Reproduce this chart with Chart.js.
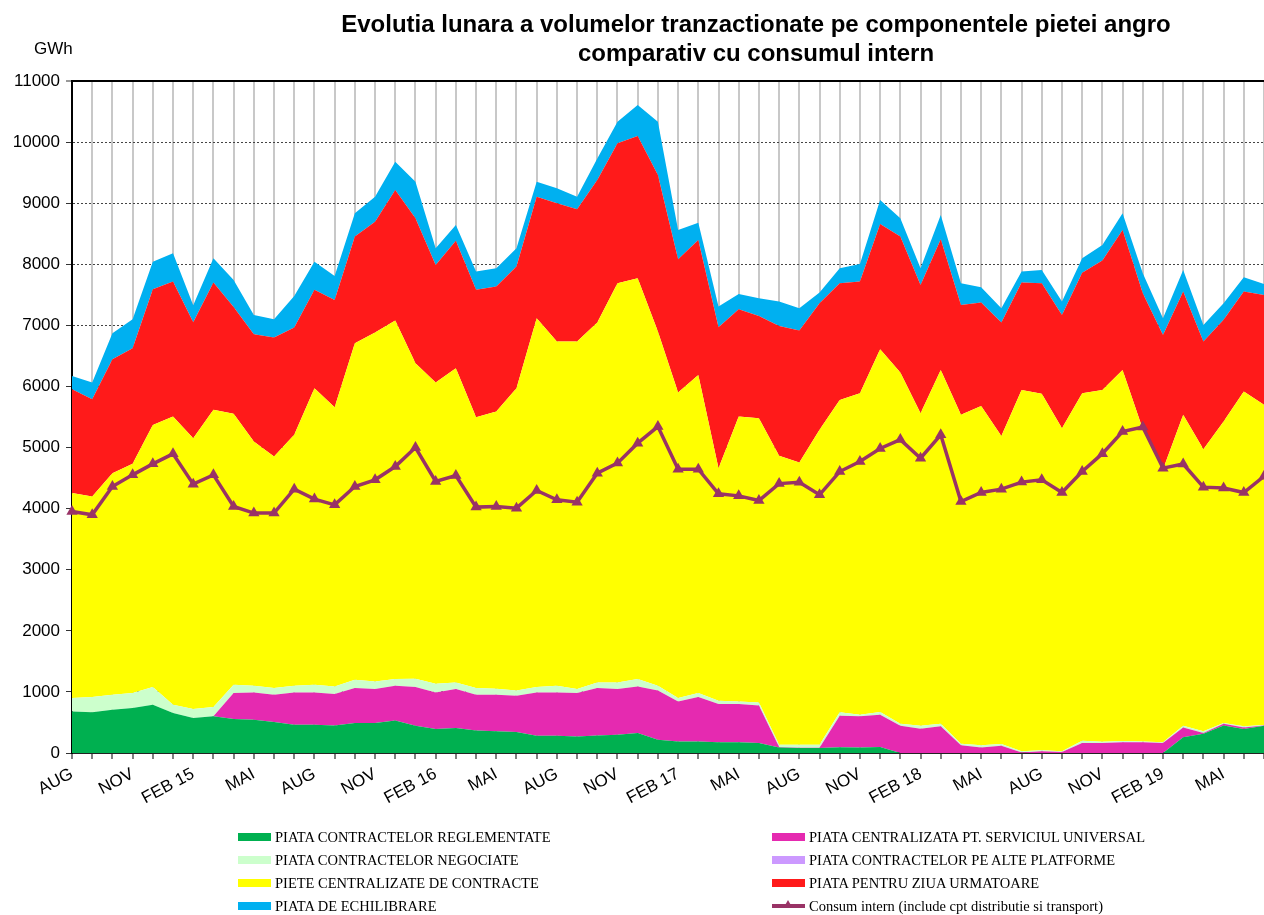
<!DOCTYPE html>
<html>
<head>
<meta charset="utf-8">
<title>Evolutia lunara a volumelor tranzactionate</title>
<script src="https://cdn.jsdelivr.net/npm/chart.js@4.4.1/dist/chart.umd.min.js"></script>
<style>
  body { margin: 0; background: #fff; }
  #wrap { position: relative; width: 1264px; height: 915px; overflow: hidden; }
  #chart { position: absolute; left: 0; top: 0; }
  .title {
    position: absolute; left: 756px; top: 9px; transform: translateX(-50%);
    font: bold 24px "Liberation Sans", Arial, sans-serif; line-height: 29px;
    text-align: center; white-space: nowrap; color: #000;
  }
  .unit {
    position: absolute; left: 34px; top: 40px;
    font: 17px "Liberation Sans", Arial, sans-serif; line-height: 17px; color: #000;
  }
  .legend-item {
    position: absolute; height: 20px; display: flex; align-items: center;
    font: 14.5px "Liberation Serif", "Times New Roman", serif; line-height: 20px;
    color: #000; white-space: nowrap;
  }
  .swatch { width: 33px; height: 8px; margin-right: 4px; position: relative; }
  .swatch.line { height: 4px; }
  .swatch.line span {
    position: absolute; left: 12px; top: -4px; width: 0; height: 0;
    border-left: 4px solid transparent; border-right: 4px solid transparent;
    border-bottom: 7px solid #993366;
  }
</style>
</head>
<body>
<div id="wrap">
  <canvas id="chart" width="1264" height="915"></canvas>
  <div class="title">Evolutia lunara a volumelor tranzactionate pe componentele pietei angro<br>comparativ cu consumul intern</div>
  <div class="unit">GWh</div>
  <div id="legend"></div>
</div>
<script>
// luni aug 2014 - iul 2019
const months = [
  "AUG", "SEP", "OCT", "NOV", "DEC", "IAN", "FEB 15", "MAR", "APR", "MAI", "IUN", "IUL",
  "AUG", "SEP", "OCT", "NOV", "DEC", "IAN", "FEB 16", "MAR", "APR", "MAI", "IUN", "IUL",
  "AUG", "SEP", "OCT", "NOV", "DEC", "IAN", "FEB 17", "MAR", "APR", "MAI", "IUN", "IUL",
  "AUG", "SEP", "OCT", "NOV", "DEC", "IAN", "FEB 18", "MAR", "APR", "MAI", "IUN", "IUL",
  "AUG", "SEP", "OCT", "NOV", "DEC", "IAN", "FEB 19", "MAR", "APR", "MAI", "IUN", "IUL"
];

// GWh
const reglementate = [
  681, 665, 708, 736, 790, 654, 573, 600, 556, 545, 507, 463,
  463, 452, 491, 491, 534, 447, 393, 409, 370, 354, 343, 283,
  283, 272, 288, 299, 327, 218, 190, 190, 174, 174, 164, 92,
  82, 82, 95, 92, 98, 0, 0, 0, 0, 0, 0, 0,
  0, 0, 0, 0, 0, 0, 0, 256, 316, 452, 393, 447
];
const serviciulUniversal = [
  0, 0, 0, 0, 0, 0, 0, 0, 426, 447, 447, 529,
  529, 513, 572, 556, 567, 633, 599, 638, 584, 600, 595, 709,
  709, 710, 775, 748, 763, 807, 655, 726, 628, 628, 615, 5,
  5, 5, 515, 508, 529, 447, 398, 436, 125, 92, 120, 10,
  27, 16, 164, 164, 174, 174, 164, 163, 11, 28, 26, 5
];
const negociate = [
  219, 251, 246, 246, 290, 136, 147, 153, 135, 109, 109, 109,
  125, 125, 136, 125, 109, 135, 142, 108, 109, 98, 87, 88,
  109, 65, 92, 108, 120, 76, 55, 66, 54, 43, 49, 39,
  49, 49, 55, 27, 44, 33, 49, 44, 27, 33, 27, 17,
  16, 11, 37, 21, 22, 16, 10, 28, 27, 11, 17, 6
];
const altePlatforme = [
  0, 0, 0, 0, 0, 0, 0, 0, 0, 0, 0, 0,
  0, 0, 0, 0, 0, 0, 0, 0, 0, 0, 0, 0,
  0, 0, 0, 0, 0, 0, 0, 0, 0, 0, 0, 0,
  0, 0, 0, 0, 0, 0, 0, 0, 0, 0, 0, 0,
  0, 0, 0, 0, 0, 0, 0, 0, 0, 0, 0, 0
];
const centralizate = [
  3354, 3283, 3627, 3751, 4291, 4718, 4434, 4864, 4435, 3998, 3790, 4107,
  4855, 4571, 5509, 5710, 5868, 5166, 4930, 5144, 4434, 4537, 4947, 6037,
  5633, 5687, 5890, 6535, 6562, 5797, 5000, 5207, 3807, 4663, 4653, 4728,
  4619, 5154, 5115, 5263, 5939, 5747, 5116, 5791, 5383, 5557, 5044, 5917,
  5836, 5290, 5689, 5759, 6075, 5110, 4466, 5088, 4620, 4935, 5481, 5241
];
const ziuaUrmatoare = [
  1701, 1593, 1865, 1893, 2221, 2208, 1896, 2083, 1748, 1756, 1947, 1755,
  1609, 1756, 1745, 1816, 2138, 2372, 1925, 2088, 2084, 2046, 1990, 1990,
  2265, 2166, 2334, 2290, 2328, 2564, 2182, 2209, 2307, 1756, 1674, 2127,
  2159, 2072, 1910, 1826, 2050, 2226, 2099, 2139, 1800, 1691, 1854, 1756,
  1811, 1854, 1973, 2116, 2291, 2226, 2204, 2018, 1760, 1664, 1636, 1799
];
const echilibrare = [
  218, 272, 426, 475, 451, 464, 280, 399, 444, 316, 301, 517,
  462, 392, 382, 409, 463, 599, 273, 256, 299, 300, 300, 245,
  245, 207, 354, 354, 507, 872, 480, 283, 337, 251, 289, 398,
  367, 174, 245, 290, 392, 300, 273, 397, 355, 251, 236, 180,
  218, 218, 236, 257, 273, 327, 273, 355, 273, 272, 235, 180
];
const consumIntern = [
  3953, 3899, 4362, 4553, 4733, 4897, 4401, 4553, 4035, 3927, 3927, 4319,
  4156, 4062, 4362, 4472, 4689, 5000, 4444, 4542, 4025, 4035, 4008, 4297,
  4144, 4106, 4581, 4745, 5072, 5344, 4646, 4646, 4242, 4209, 4133, 4410,
  4430, 4226, 4607, 4771, 4985, 5130, 4826, 5208, 4117, 4264, 4319, 4434,
  4472, 4264, 4607, 4900, 5262, 5335, 4663, 4730, 4352, 4336, 4264, 4530
];

// componentele pietei, de jos in sus
const areas = [
  { label: "PIATA CONTRACTELOR REGLEMENTATE", data: reglementate, color: "#00b050" },
  { label: "PIATA CENTRALIZATA PT. SERVICIUL UNIVERSAL", data: serviciulUniversal, color: "#e52ab0" },
  { label: "PIATA CONTRACTELOR NEGOCIATE", data: negociate, color: "#ccffcc" },
  { label: "PIATA CONTRACTELOR PE ALTE PLATFORME", data: altePlatforme, color: "#cc99ff" },
  { label: "PIETE CENTRALIZATE DE CONTRACTE", data: centralizate, color: "#ffff00" },
  { label: "PIATA PENTRU ZIUA URMATOARE", data: ziuaUrmatoare, color: "#ff1a1a" },
  { label: "PIATA DE ECHILIBRARE", data: echilibrare, color: "#00b0f0" }
];
const consumLabel = "Consum intern (include cpt distributie si transport)";
const consumColor = "#993366";

const tickFont = { family: '"Liberation Sans", Arial, sans-serif', size: 17 };

const datasets = [{
  label: consumLabel,
  data: consumIntern,
  borderColor: consumColor,
  backgroundColor: consumColor,
  borderWidth: 3.5,
  pointStyle: "triangle",
  pointRadius: 6.5,
  pointBorderWidth: 0,
  fill: false,
  stack: "consum",
  order: 0
}].concat(areas.map((a, k) => ({
  label: a.label,
  data: a.data,
  backgroundColor: a.color,
  borderColor: a.color,
  borderWidth: 0,
  pointRadius: 0,
  fill: k === 0 ? "origin" : k, // dataset k is the area right below
  stack: "piata",
  order: 1
})));

new Chart(document.getElementById("chart"), {
  type: "line",
  data: { labels: months, datasets: datasets },
  options: {
    responsive: false,
    animation: false,
    events: [],
    layout: { autoPadding: false, padding: { top: 81, right: 0, bottom: 0, left: 0 } },
    elements: { line: { tension: 0 } },
    plugins: {
      legend: { display: false },
      tooltip: { enabled: false },
      title: { display: false }
    },
    scales: {
      x: {
        offset: false,
        grid: { color: "#c8c8c8", lineWidth: 2, tickLength: 6, tickColor: "#555", tickWidth: 1.5 },
        border: { color: "#222", width: 2 },
        ticks: {
          autoSkip: false,
          minRotation: 28,
          maxRotation: 28,
          padding: 5,
          color: "#000",
          font: tickFont,
          callback: (v, i) => (i % 3 === 0 ? months[i] : "")
        },
        afterFit: (scale) => {
          scale.height = 162;
          scale.paddingLeft = 0;
          scale.paddingRight = 0;
        }
      },
      y: {
        stacked: true,
        min: 0,
        max: 11000,
        ticks: {
          stepSize: 1000,
          padding: 6,
          color: "#000",
          font: tickFont,
          callback: (v) => String(v)
        },
        grid: {
          color: (c) => (c.tick && c.tick.value === 11000 ? "#000" : "#444"),
          lineWidth: (c) => (c.tick && c.tick.value === 11000 ? 2 : 1),
          tickLength: 6,
          tickColor: "#333",
          tickWidth: 1
        },
        border: {
          color: "#000",
          width: 2,
          dash: (c) => (c.tick && c.tick.value === 11000 ? [] : [2, 2])
        },
        afterFit: (scale) => { scale.width = 72; }
      }
    }
  }
});

// legenda pe doua coloane, in ordinea de stivuire
const legendItems = [];
areas.forEach((a) => legendItems.push({ label: a.label, color: a.color, line: false }));
legendItems.push({ label: consumLabel, color: consumColor, line: true });

const legendEl = document.getElementById("legend");
const colX = [238, 772];
const rowY = [837, 860, 883, 906];
legendItems.forEach((it, n) => {
  const div = document.createElement("div");
  div.className = "legend-item";
  div.style.left = colX[n % 2] + "px";
  div.style.top = (rowY[Math.floor(n / 2)] - 10) + "px";
  const sw = document.createElement("div");
  sw.className = it.line ? "swatch line" : "swatch";
  sw.style.background = it.color;
  if (it.line) sw.appendChild(document.createElement("span"));
  div.appendChild(sw);
  const txt = document.createElement("span");
  txt.textContent = it.label;
  div.appendChild(txt);
  legendEl.appendChild(div);
});
</script>
</body>
</html>
